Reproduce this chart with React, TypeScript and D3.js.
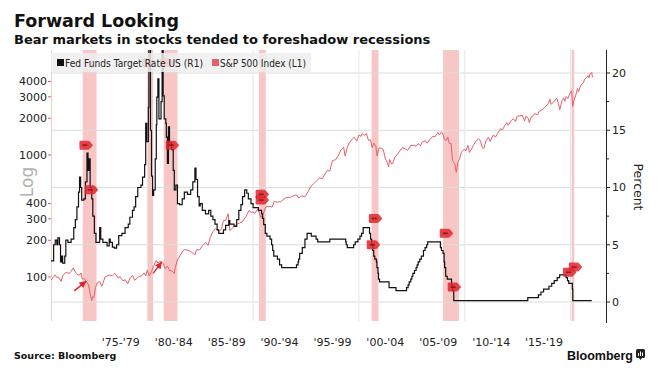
import React from "react";
import * as d3 from "d3";

// ---------- DATA ----------
// S&P 500 index (left, log axis): [decimal year, index level]
const spx: [number, number][] = [
  [1970.9, 94], [1971.1, 99], [1971.3, 104], [1971.45, 99], [1971.6, 100], [1971.85, 92], [1972.0, 102], [1972.2, 107],
  [1972.4, 109], [1972.6, 107], [1972.8, 111], [1973.0, 119], [1973.15, 112], [1973.3, 107], [1973.45, 104], [1973.6, 104],
  [1973.75, 108], [1973.85, 96], [1974.0, 97], [1974.15, 94], [1974.3, 90], [1974.45, 86], [1974.6, 73], [1974.75, 64],
  [1974.85, 69], [1974.95, 68], [1975.1, 82], [1975.3, 90], [1975.5, 92], [1975.7, 84], [1975.85, 91], [1976.0, 100],
  [1976.2, 102], [1976.45, 104], [1976.7, 102], [1976.95, 107], [1977.2, 99], [1977.45, 100], [1977.7, 93], [1977.9, 95],
  [1978.15, 88], [1978.35, 97], [1978.6, 103], [1978.8, 94], [1979.0, 97], [1979.2, 101], [1979.45, 102], [1979.7, 108],
  [1979.85, 102], [1980.0, 114], [1980.2, 102], [1980.4, 111], [1980.6, 123], [1980.85, 137], [1981.0, 130], [1981.2, 134],
  [1981.45, 132], [1981.7, 117], [1981.9, 123], [1982.1, 113], [1982.35, 112], [1982.55, 107], [1982.65, 120], [1982.85, 138],
  [1983.0, 145], [1983.3, 160], [1983.5, 168], [1983.75, 166], [1984.0, 164], [1984.3, 157], [1984.5, 152], [1984.65, 167],
  [1984.95, 167], [1985.2, 180], [1985.5, 192], [1985.75, 182], [1985.95, 211], [1986.2, 235], [1986.45, 250], [1986.65, 240],
  [1986.8, 238], [1987.0, 246], [1987.2, 291], [1987.4, 290], [1987.65, 330], [1987.8, 240], [1987.95, 247], [1988.2, 259],
  [1988.5, 272], [1988.75, 278], [1989.0, 285], [1989.3, 310], [1989.6, 350], [1989.8, 340], [1990.0, 340], [1990.15, 332],
  [1990.45, 361], [1990.75, 306], [1990.95, 330], [1991.2, 375], [1991.5, 380], [1991.8, 375], [1992.0, 417], [1992.3, 410],
  [1992.6, 415], [1992.9, 435], [1993.2, 450], [1993.5, 450], [1993.9, 466], [1994.1, 472], [1994.3, 445], [1994.6, 462],
  [1994.9, 455], [1995.2, 500], [1995.5, 560], [1995.8, 590], [1996.0, 615], [1996.3, 650], [1996.55, 640], [1996.8, 700],
  [1997.0, 745], [1997.25, 740], [1997.5, 900], [1997.8, 915], [1998.0, 970], [1998.3, 1100], [1998.55, 1160], [1998.7, 980],
  [1998.9, 1160], [1999.1, 1260], [1999.4, 1360], [1999.55, 1400], [1999.8, 1300], [2000.0, 1460], [2000.2, 1420], [2000.3, 1500],
  [2000.5, 1450], [2000.7, 1500], [2000.9, 1320], [2001.1, 1330], [2001.25, 1150], [2001.4, 1250], [2001.6, 1180], [2001.72, 980],
  [2001.9, 1140], [2002.1, 1140], [2002.3, 1110], [2002.5, 930], [2002.6, 900], [2002.8, 800], [2002.9, 920], [2003.1, 840],
  [2003.2, 860], [2003.4, 960], [2003.6, 1000], [2003.9, 1090], [2004.1, 1150], [2004.4, 1120], [2004.6, 1090], [2004.9, 1200],
  [2005.2, 1200], [2005.4, 1180], [2005.6, 1240], [2005.8, 1190], [2006.0, 1280], [2006.3, 1310], [2006.45, 1250], [2006.7, 1340],
  [2007.0, 1420], [2007.2, 1410], [2007.45, 1530], [2007.6, 1460], [2007.8, 1550], [2007.95, 1470], [2008.1, 1330], [2008.25, 1320],
  [2008.4, 1400], [2008.55, 1240], [2008.7, 1250], [2008.85, 900], [2008.95, 870], [2009.05, 850], [2009.2, 720], [2009.35, 870],
  [2009.5, 920], [2009.7, 1060], [2009.95, 1120], [2010.1, 1080], [2010.3, 1200], [2010.45, 1050], [2010.6, 1100], [2010.8, 1190],
  [2011.0, 1280], [2011.3, 1360], [2011.5, 1300], [2011.65, 1150], [2011.8, 1130], [2012.0, 1300], [2012.25, 1400], [2012.4, 1290],
  [2012.7, 1460], [2012.9, 1400], [2013.1, 1500], [2013.4, 1650], [2013.55, 1600], [2013.8, 1750], [2014.0, 1840], [2014.1, 1750],
  [2014.4, 1920], [2014.6, 1980], [2014.8, 1880], [2014.95, 2080], [2015.2, 2090], [2015.45, 2120], [2015.65, 1900], [2015.8, 2090],
  [2016.0, 1990], [2016.1, 1840], [2016.3, 2070], [2016.5, 2100], [2016.6, 2180], [2016.9, 2140], [2017.0, 2270], [2017.3, 2350],
  [2017.6, 2470], [2017.9, 2650], [2018.05, 2870], [2018.15, 2600], [2018.4, 2720], [2018.7, 2920], [2018.85, 2650], [2018.98, 2350],
  [2019.2, 2800], [2019.35, 2940], [2019.45, 2750], [2019.6, 3020], [2019.75, 2900], [2019.9, 3150], [2020.1, 3370], [2020.2, 2500],
  [2020.35, 2850], [2020.5, 3100], [2020.65, 3500], [2020.75, 3300], [2020.9, 3600], [2021.0, 3750], [2021.2, 3900], [2021.35, 4200],
  [2021.5, 4300], [2021.65, 4480], [2021.75, 4300], [2021.85, 4650], [2021.95, 4700], [2022.0, 4750], [2022.05, 4450], [2022.1, 4320],
];

// Fed funds rate (right axis, percent): [decimal year, rate] step-after
const fedFunds: [number, number][] = [
  [1970.9, 3.6], [1971.15, 5.0], [1971.3, 5.4], [1971.45, 5.0], [1971.55, 5.6], [1971.7, 5.0], [1971.8, 3.5], [1971.9, 4.0],
  [1972.0, 3.4], [1972.2, 4.0], [1972.3, 5.4], [1972.5, 5.2], [1972.8, 5.5], [1973.05, 6.5], [1973.2, 7.2], [1973.35, 8.3],
  [1973.5, 9.6], [1973.6, 10.9], [1973.7, 10.0], [1973.8, 8.9], [1974.0, 9.0], [1974.15, 10.5], [1974.3, 13.0], [1974.4, 11.5],
  [1974.5, 12.5], [1974.6, 10.0], [1974.75, 9.0], [1974.85, 7.5], [1975.0, 6.0], [1975.15, 5.2], [1975.5, 6.5], [1975.6, 5.5],
  [1975.8, 5.2], [1976.2, 4.9], [1976.4, 5.5], [1976.5, 5.2], [1976.7, 4.8], [1976.9, 4.7], [1977.1, 5.0], [1977.3, 5.8],
  [1977.6, 6.0], [1977.9, 6.5], [1978.2, 6.8], [1978.35, 7.4], [1978.6, 8.0], [1978.75, 8.3], [1978.9, 9.2], [1979.1, 10.0],
  [1979.4, 10.2], [1979.55, 10.9], [1979.75, 12.0], [1979.85, 15.6], [1979.95, 14.0], [1980.1, 17.0], [1980.15, 22.5], [1980.3, 15.0],
  [1980.4, 11.0], [1980.5, 9.3], [1980.6, 9.8], [1980.75, 12.5], [1980.85, 15.5], [1980.9, 17.9], [1981.0, 19.5], [1981.1, 16.0],
  [1981.3, 17.5], [1981.4, 22.5], [1981.5, 18.0], [1981.6, 16.0], [1981.75, 15.6], [1981.8, 14.4], [1981.9, 12.1], [1982.0, 15.3],
  [1982.1, 13.9], [1982.3, 13.3], [1982.45, 11.5], [1982.55, 9.8], [1982.7, 10.2], [1982.85, 8.6], [1983.05, 8.5], [1983.3, 9.0],
  [1983.5, 9.6], [1983.8, 9.4], [1984.1, 9.8], [1984.3, 10.5], [1984.5, 11.7], [1984.6, 10.7], [1984.75, 9.2], [1984.9, 8.4],
  [1985.0, 8.6], [1985.2, 8.0], [1985.5, 7.7], [1985.8, 8.0], [1986.0, 7.5], [1986.2, 7.2], [1986.4, 6.8], [1986.6, 6.3],
  [1986.75, 6.0], [1987.2, 6.3], [1987.4, 6.7], [1987.7, 7.1], [1987.8, 6.8], [1988.2, 6.6], [1988.45, 7.2], [1988.65, 8.0],
  [1988.85, 8.5], [1989.0, 9.2], [1989.2, 9.8], [1989.4, 9.5], [1989.55, 9.0], [1989.8, 8.6], [1990.0, 8.25], [1990.5, 8.0],
  [1990.8, 7.7], [1990.9, 7.3], [1991.0, 6.75], [1991.15, 6.0], [1991.3, 5.75], [1991.6, 5.5], [1991.75, 5.0], [1991.85, 4.5],
  [1991.95, 4.0], [1992.3, 3.75], [1992.5, 3.25], [1992.7, 3.0], [1994.1, 3.25], [1994.25, 3.5], [1994.3, 3.75], [1994.4, 4.25],
  [1994.65, 4.75], [1994.9, 5.5], [1995.1, 6.0], [1995.5, 5.75], [1995.95, 5.5], [1996.1, 5.25], [1997.25, 5.5], [1998.75, 5.25],
  [1998.8, 5.0], [1998.9, 4.75], [1999.5, 5.0], [1999.65, 5.25], [1999.9, 5.5], [2000.1, 5.75], [2000.25, 6.0], [2000.4, 6.5],
  [2001.0, 6.0], [2001.1, 5.5], [2001.2, 5.0], [2001.3, 4.5], [2001.4, 4.0], [2001.5, 3.75], [2001.65, 3.5], [2001.7, 3.0],
  [2001.8, 2.5], [2001.85, 2.0], [2001.95, 1.75], [2002.85, 1.25], [2003.5, 1.0], [2004.5, 1.25], [2004.65, 1.5], [2004.75, 1.75],
  [2004.9, 2.0], [2005.0, 2.25], [2005.1, 2.5], [2005.25, 2.75], [2005.4, 3.0], [2005.5, 3.25], [2005.6, 3.5], [2005.75, 3.75],
  [2005.9, 4.0], [2006.1, 4.5], [2006.25, 4.75], [2006.4, 5.0], [2006.5, 5.25], [2007.7, 4.75], [2007.8, 4.5], [2007.95, 4.25],
  [2008.05, 3.5], [2008.1, 3.0], [2008.2, 2.25], [2008.35, 2.0], [2008.75, 1.5], [2008.85, 1.0], [2008.96, 0.125], [2015.96, 0.375],
  [2016.96, 0.625], [2017.2, 0.875], [2017.45, 1.125], [2017.96, 1.375], [2018.22, 1.625], [2018.46, 1.875], [2018.74, 2.125],
  [2018.97, 2.375], [2019.58, 2.125], [2019.71, 1.875], [2019.83, 1.625], [2020.17, 1.125], [2020.21, 0.125], [2022.0, 0.125],
];

// Recession bands (start, end)
const recessionStarts = [1973.9, 1980.0, 1981.55, 1990.55, 2001.2, 2007.95, 2020.1];
const recessionEnds = [1975.2, 1980.55, 1982.85, 1991.2, 2001.85, 2009.45, 2020.35];

// Event markers (year, percent on right axis)
const eventYears = [1974.25, 1974.75, 1980.15, 1981.85, 1982.4, 1990.9, 1990.9, 2001.6, 2001.4, 2008.3, 2009.05, 2019.95, 2020.5];
const eventRates = [13.7, 9.8, 20.9, 20.9, 13.7, 9.4, 8.9, 7.3, 5.0, 6.0, 1.3, 2.6, 3.05];

// Arrows on the S&P line (from year/value to year/value)
const arrowFrom: [number, number][] = [[1973.1, 77], [1980.55, 107]];
const arrowTo: [number, number][] = [[1974.2, 92], [1981.35, 132]];

// Axis ticks
const leftTicks = [100, 200, 300, 400, 1000, 2000, 3000, 4000];
const rightTicks = [0, 5, 10, 15, 20];
const rightMinorTicks = [2.5, 7.5, 12.5, 17.5];
const xTickLabels = ["'75-'79", "'80-'84", "'85-'89", "'90-'94", "'95-'99", "'00-'04", "'05-'09", "'10-'14", "'15-'19"];
const xTickYears = [1977.5, 1982.5, 1987.5, 1992.5, 1997.5, 2002.5, 2007.5, 2012.5, 2017.5];
const xGridYears = [1980, 1990, 2000, 2010, 2020];

// ---------- LAYOUT ----------
const W = 661;
const H = 377;
const plotLeft = 51;
const plotRight = 606;
const plotTop = 50;
const plotBottom = 321;

const FONT = "'DejaVu Sans', Verdana, sans-serif";

export default function App() {
  const x = d3.scaleLinear().domain([1970.9, 2023.35]).range([plotLeft, plotRight]);
  const yR = d3.scaleLinear().domain([0, 20]).range([302, 73]);
  const yL = d3.scaleLog().domain([100, 1000]).range([277, 155]);

  const spLine = d3
    .line<[number, number]>()
    .x((d) => x(d[0]))
    .y((d) => yL(d[1]));
  const ffLine = d3
    .line<[number, number]>()
    .x((d) => x(d[0]))
    .y((d) => yR(d[1]))
    .curve(d3.curveStepAfter);

  const red = "#e5606a";
  const tag = "M-6,-4.5 h7.5 q1,0 1.8,0.8 l3.2,3.7 l-3.2,3.7 q-0.8,0.8 -1.8,0.8 h-7.5 q-1,0 -1,-1 v-7 q0,-1 1,-1 z";

  return (
    <svg
      width={W}
      height={H}
      viewBox={`0 0 ${W} ${H}`}
      style={{ position: "absolute", left: 0, top: 0, background: "#fff" }}
    >
      <defs>
        <clipPath id="plotClip">
          <rect x={plotLeft} y={plotTop} width={plotRight - plotLeft} height={plotBottom - plotTop} />
        </clipPath>
        <marker id="arrowHead" viewBox="0 0 10 10" refX="9" refY="5" markerWidth="5" markerHeight="5" orient="auto">
          <path d="M0,0 L10,5 L0,10 z" fill="#e3242b" />
        </marker>
      </defs>

      {/* Titles */}
      <text x={14} y={27} fontFamily={FONT} fontWeight="bold" fontSize={17.5} fill="#111">
        Forward Looking
      </text>
      <text x={14} y={44} fontFamily={FONT} fontWeight="bold" fontSize={13} fill="#111">
        Bear markets in stocks tended to foreshadow recessions
      </text>

      {/* Recession bands */}
      {recessionStarts.map((s, i) => (
        <rect
          key={"band" + i}
          x={x(s)}
          y={plotTop}
          width={x(recessionEnds[i]) - x(s)}
          height={plotBottom - plotTop}
          fill="#f7b3b3"
          opacity={0.75}
        />
      ))}

      {/* Grid lines */}
      {rightTicks.map((t) => (
        <line key={"hg" + t} x1={plotLeft} x2={plotRight} y1={yR(t)} y2={yR(t)} stroke="#dcdcdc" strokeWidth={1} />
      ))}
      {xGridYears.map((yy) => (
        <line key={"vg" + yy} x1={x(yy)} x2={x(yy)} y1={plotTop} y2={plotBottom} stroke="#e6e6e6" strokeWidth={1} />
      ))}
      <line x1={plotLeft + 0.5} x2={plotLeft + 0.5} y1={plotTop} y2={plotBottom} stroke="#f0cccc" strokeWidth={1} />

      {/* Series */}
      <g clipPath="url(#plotClip)">
        <path d={spLine(spx) || ""} fill="none" stroke={red} strokeWidth={1} strokeLinejoin="round" />
        <path d={ffLine(fedFunds) || ""} fill="none" stroke="#111" strokeWidth={1.2} />
      </g>

      {/* Event markers */}
      {eventYears.map((yy, i) => (
        <g key={"ev" + i} transform={`translate(${x(yy)},${yR(eventRates[i])})`}>
          <path d={tag} fill="#e0262e" opacity={0.85} />
          <rect x={-4} y={-0.8} width={5} height={1.6} fill="#6b0a0e" opacity={0.7} />
        </g>
      ))}

      {/* Arrows */}
      {arrowFrom.map((a, i) => (
        <line
          key={"ar" + i}
          x1={x(a[0])}
          y1={yL(a[1])}
          x2={x(arrowTo[i][0])}
          y2={yL(arrowTo[i][1])}
          stroke="#e3242b"
          strokeWidth={1.4}
          markerEnd="url(#arrowHead)"
        />
      ))}

      {/* Legend */}
      <rect x={plotLeft} y={53} width={260} height={19} fill="#eeeeee" opacity={0.85} />
      <rect x={57} y={59} width={7} height={7} fill="#111" />
      <text x={65} y={66.5} fontFamily={FONT} fontSize={10} fill="#222" textLength={138} lengthAdjust="spacingAndGlyphs">
        Fed Funds Target Rate US (R1)
      </text>
      <rect x={212} y={59} width={7} height={7} fill={red} />
      <text x={220} y={66.5} fontFamily={FONT} fontSize={10} fill="#222" textLength={86} lengthAdjust="spacingAndGlyphs">
        S&amp;P 500 Index (L1)
      </text>

      {/* Left axis */}
      {leftTicks.map((t) => (
        <g key={"lt" + t}>
          <line x1={48} x2={51} y1={yL(t)} y2={yL(t)} stroke="#e06060" strokeWidth={1} />
          <text x={47} y={yL(t)} dy="0.35em" textAnchor="end" fontFamily={FONT} fontSize={11} fill="#222">
            {t}
          </text>
        </g>
      ))}
      <text
        transform={`translate(28,182) rotate(-90)`}
        textAnchor="middle"
        dominantBaseline="middle"
        fontFamily={FONT}
        fontSize={17}
        fill="#b0b0b0"
      >
        Log
      </text>

      {/* Right axis */}
      <line x1={plotRight + 0.5} x2={plotRight + 0.5} y1={plotTop} y2={323} stroke="#222" strokeWidth={1} />
      {rightTicks.map((t) => (
        <g key={"rt" + t}>
          <line x1={plotRight} x2={plotRight + 4} y1={yR(t)} y2={yR(t)} stroke="#222" strokeWidth={1} />
          <text x={plotRight + 6} y={yR(t)} dy="0.35em" fontFamily={FONT} fontSize={11} fill="#222">
            {t}
          </text>
        </g>
      ))}
      {rightMinorTicks.map((t) => (
        <line key={"rm" + t} x1={plotRight} x2={plotRight + 3} y1={yR(t)} y2={yR(t)} stroke="#222" strokeWidth={1} />
      ))}
      <text
        transform={`translate(637,187) rotate(90)`}
        textAnchor="middle"
        dominantBaseline="middle"
        fontFamily={FONT}
        fontSize={12.5}
        fill="#222"
      >
        Percent
      </text>

      {/* X axis labels */}
      {xTickLabels.map((l, i) => (
        <text key={"xl" + i} x={x(xTickYears[i])} y={346} textAnchor="middle" fontFamily={FONT} fontSize={11} fill="#222">
          {l}
        </text>
      ))}

      {/* Footer */}
      <text x={14} y={359} fontFamily={FONT} fontWeight="bold" fontSize={9.5} fill="#111">
        Source: Bloomberg
      </text>
      <text x={567} y={360} fontFamily="'Liberation Sans', Arial, sans-serif" fontWeight="bold" fontSize={12.5} fill="#111">
        Bloomberg
      </text>
      <g transform="translate(636,349)">
        <rect x={0} y={0} width={9} height={9} rx={1.5} fill="#222" />
        <path d="M3,9 L4.5,11 L6,9 z" fill="#222" />
        <rect x={2} y={4} width={1} height={3} fill="#fff" />
        <rect x={4} y={2.5} width={1} height={4.5} fill="#fff" />
        <rect x={6} y={3.5} width={1} height={3.5} fill="#fff" />
      </g>
    </svg>
  );
}
